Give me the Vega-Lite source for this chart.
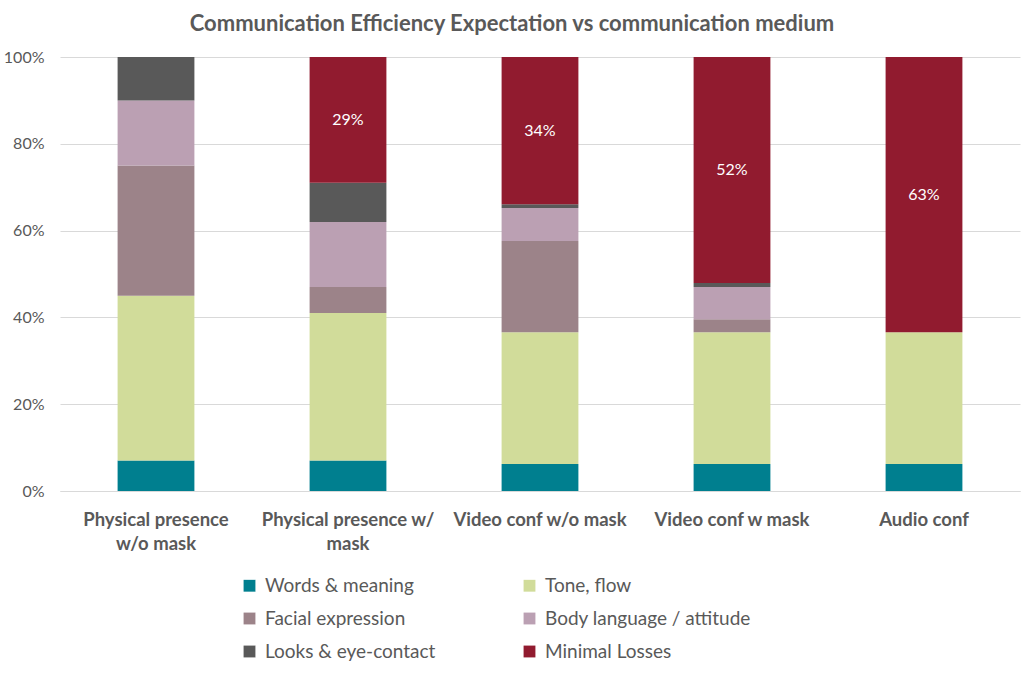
{
  "$schema": "https://vega.github.io/schema/vega-lite/v6.json",
  "autosize": {"type": "none"},
  "width": 960,
  "height": 434,
  "padding": {"left": 60, "top": 57, "right": 4, "bottom": 187},
  "background": "white",
  "config": {
    "font": "Lato",
    "view": {"stroke": null}
  },
  "title": {
    "text": "Communication Efficiency Expectation vs communication medium",
    "fontSize": 22,
    "fontWeight": "bold",
    "color": "#595959",
    "font": "Lato",
    "anchor": "middle",
    "dx": -28,
    "offset": 13
  },
  "data": {
    "values": [
      {"medium": "Physical presence w/o mask", "series": "Words & meaning", "order": 1, "value": 0.07},
      {"medium": "Physical presence w/o mask", "series": "Tone, flow", "order": 2, "value": 0.38},
      {"medium": "Physical presence w/o mask", "series": "Facial expression", "order": 3, "value": 0.30},
      {"medium": "Physical presence w/o mask", "series": "Body language / attitude", "order": 4, "value": 0.15},
      {"medium": "Physical presence w/o mask", "series": "Looks & eye-contact", "order": 5, "value": 0.10},
      {"medium": "Physical presence w/o mask", "series": "Minimal Losses", "order": 6, "value": 0},
      {"medium": "Physical presence w/ mask", "series": "Words & meaning", "order": 1, "value": 0.07},
      {"medium": "Physical presence w/ mask", "series": "Tone, flow", "order": 2, "value": 0.34},
      {"medium": "Physical presence w/ mask", "series": "Facial expression", "order": 3, "value": 0.06},
      {"medium": "Physical presence w/ mask", "series": "Body language / attitude", "order": 4, "value": 0.15},
      {"medium": "Physical presence w/ mask", "series": "Looks & eye-contact", "order": 5, "value": 0.09},
      {"medium": "Physical presence w/ mask", "series": "Minimal Losses", "order": 6, "value": 0.29},
      {"medium": "Video conf w/o mask", "series": "Words & meaning", "order": 1, "value": 0.062},
      {"medium": "Video conf w/o mask", "series": "Tone, flow", "order": 2, "value": 0.304},
      {"medium": "Video conf w/o mask", "series": "Facial expression", "order": 3, "value": 0.21},
      {"medium": "Video conf w/o mask", "series": "Body language / attitude", "order": 4, "value": 0.076},
      {"medium": "Video conf w/o mask", "series": "Looks & eye-contact", "order": 5, "value": 0.009},
      {"medium": "Video conf w/o mask", "series": "Minimal Losses", "order": 6, "value": 0.339},
      {"medium": "Video conf w mask", "series": "Words & meaning", "order": 1, "value": 0.062},
      {"medium": "Video conf w mask", "series": "Tone, flow", "order": 2, "value": 0.304},
      {"medium": "Video conf w mask", "series": "Facial expression", "order": 3, "value": 0.03},
      {"medium": "Video conf w mask", "series": "Body language / attitude", "order": 4, "value": 0.074},
      {"medium": "Video conf w mask", "series": "Looks & eye-contact", "order": 5, "value": 0.009},
      {"medium": "Video conf w mask", "series": "Minimal Losses", "order": 6, "value": 0.521},
      {"medium": "Audio conf", "series": "Words & meaning", "order": 1, "value": 0.062},
      {"medium": "Audio conf", "series": "Tone, flow", "order": 2, "value": 0.304},
      {"medium": "Audio conf", "series": "Facial expression", "order": 3, "value": 0},
      {"medium": "Audio conf", "series": "Body language / attitude", "order": 4, "value": 0},
      {"medium": "Audio conf", "series": "Looks & eye-contact", "order": 5, "value": 0},
      {"medium": "Audio conf", "series": "Minimal Losses", "order": 6, "value": 0.634}
    ]
  },
  "encoding": {
    "x": {
      "field": "medium",
      "type": "nominal",
      "sort": null,
      "title": null,
      "scale": {"paddingInner": 0.6, "paddingOuter": 0.3},
      "axis": {
        "labelAngle": 0,
        "labelFontSize": 18.5,
        "labelFontWeight": "bold",
        "labelColor": "#595959",
        "labelPadding": 19,
        "labelLineHeight": 24,
        "labelBaseline": "top",
        "labelLimit": 260,
        "labelOverlap": false,
        "ticks": false,
        "domainColor": "#D9D9D9",
        "labelExpr": "datum.label == 'Physical presence w/o mask' ? ['Physical presence', 'w/o mask'] : datum.label == 'Physical presence w/ mask' ? ['Physical presence w/', 'mask'] : datum.label"
      }
    },
    "y": {
      "field": "value",
      "type": "quantitative",
      "stack": "zero",
      "title": null,
      "scale": {"domain": [0, 1], "nice": false},
      "axis": {
        "format": ".0%",
        "values": [0, 0.2, 0.4, 0.6, 0.8, 1],
        "labelOverlap": false,
        "labelFontSize": 16,
        "labelColor": "#595959",
        "labelPadding": 16,
        "ticks": false,
        "domain": false,
        "gridColor": "#D9D9D9"
      }
    },
    "order": {"field": "order", "type": "quantitative"}
  },
  "layer": [
    {
      "mark": {"type": "bar"},
      "encoding": {
        "color": {
          "field": "series",
          "type": "nominal",
          "scale": {
            "domain": ["Words & meaning", "Tone, flow", "Facial expression", "Body language / attitude", "Looks & eye-contact", "Minimal Losses"],
            "range": ["#007F8F", "#D1DC9A", "#9C8389", "#BBA0B3", "#595959", "#911B2F"]
          },
          "legend": {
            "title": null,
            "orient": "none",
            "legendX": 180,
            "legendY": 519,
            "columns": 2,
            "direction": "horizontal",
            "symbolType": "square",
            "symbolSize": 140,
            "symbolStrokeWidth": 0,
            "labelFontSize": 19,
            "labelColor": "#595959",
            "labelLimit": 300,
            "columnPadding": 84,
            "rowPadding": 13,
            "labelOffset": 6
          }
        }
      }
    },
    {
      "mark": {"type": "text", "color": "white", "fontSize": 16, "baseline": "middle", "align": "center"},
      "encoding": {
        "y": {"field": "value", "type": "quantitative", "stack": "zero", "bandPosition": 0.5},
        "text": {
          "condition": {"test": "datum.series == 'Minimal Losses' && datum.value > 0", "field": "value", "type": "quantitative", "format": ".0%"},
          "value": ""
        }
      }
    }
  ]
}
